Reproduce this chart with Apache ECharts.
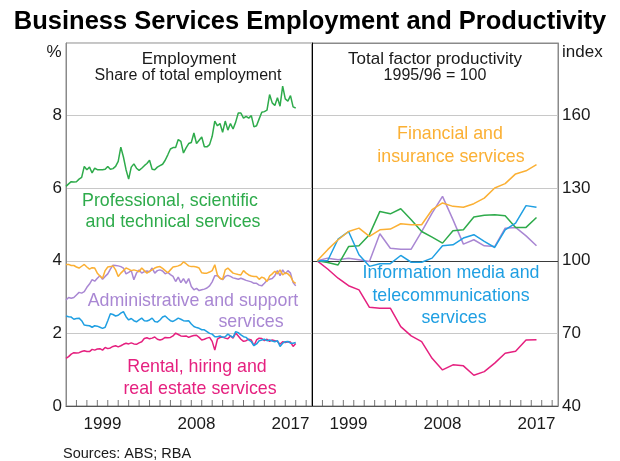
<!DOCTYPE html>
<html><head><meta charset="utf-8">
<script src="https://cdn.jsdelivr.net/npm/echarts@6/dist/echarts.min.js"></script>
<style>html,body{margin:0;padding:0;background:#fff}#c{width:620px;height:461px}</style>
</head><body><div id="c"></div>
<script>
// ---- Data ----
// Employment share (% of total), quarterly; first observation at the start of 1996 on the axis
const empStart = 1996;
const empProf = [6.05,6.12,6.18,6.17,6.18,6.25,6.30,6.60,6.51,6.58,
6.42,6.55,6.51,6.51,6.51,6.52,6.60,6.52,6.54,6.60,
6.74,7.13,6.86,6.51,6.25,6.58,6.67,6.55,6.49,6.55,
6.62,6.68,6.77,6.52,6.51,6.58,6.62,6.66,6.77,6.92,
7.08,7.12,7.12,7.34,7.29,6.97,7.11,7.23,7.26,7.52,
7.23,7.32,7.41,7.14,7.14,7.20,7.43,7.85,7.72,7.78,
7.54,7.85,7.60,7.78,7.63,7.82,8.07,8.07,7.93,7.98,
7.93,8.00,7.69,7.72,7.91,8.09,8.11,8.15,8.58,8.35,
8.28,8.49,8.26,8.81,8.46,8.40,8.55,8.24,8.21];
const empFin = [3.90,3.90,3.87,3.87,3.83,3.80,3.85,3.90,3.83,3.77,
3.81,3.80,3.66,3.58,3.52,3.73,3.83,3.84,3.86,3.75,
3.57,3.66,3.73,3.80,3.77,3.73,3.75,3.73,3.70,3.80,
3.73,3.66,3.71,3.75,3.80,3.83,3.84,3.79,3.73,3.67,
3.75,3.83,3.84,3.86,3.89,3.97,3.92,3.86,3.84,3.84,
3.83,3.80,3.67,3.66,3.66,3.69,3.73,3.89,3.61,3.52,
3.49,3.75,3.80,3.73,3.66,3.64,3.62,3.61,3.73,3.66,
3.61,3.58,3.57,3.57,3.49,3.55,3.52,3.43,3.58,3.64,
3.71,3.64,3.75,3.61,3.67,3.64,3.57,3.43,3.38];
const empAdmin = [2.92,2.99,2.97,2.99,3.06,3.13,3.11,3.15,3.27,3.36,
3.48,3.44,3.52,3.59,3.49,3.57,3.64,3.77,3.88,3.87,
3.86,3.84,3.80,3.64,3.68,3.73,3.48,3.66,3.75,3.66,
3.70,3.72,3.70,3.80,3.66,3.73,3.75,3.72,3.64,3.68,
3.62,3.57,3.43,3.55,3.40,3.51,3.38,3.51,3.29,3.20,
3.24,3.18,3.20,3.22,3.25,3.31,3.42,3.59,3.59,3.52,
3.48,3.57,3.60,3.57,3.53,3.51,3.49,3.52,3.49,3.46,
3.44,3.42,3.38,3.38,3.33,3.31,3.38,3.46,3.49,3.51,
3.59,3.73,3.59,3.75,3.64,3.73,3.66,3.40,3.31];
const empInfo = [2.48,2.46,2.45,2.39,2.41,2.42,2.35,2.23,2.22,2.21,
2.17,2.21,2.20,2.17,2.14,2.17,2.35,2.54,2.52,2.48,
2.50,2.56,2.60,2.46,2.37,2.41,2.35,2.32,2.37,2.42,
2.35,2.34,2.37,2.42,2.33,2.31,2.37,2.45,2.48,2.41,
2.35,2.33,2.37,2.42,2.39,2.35,2.34,2.35,2.26,2.19,
2.16,2.14,2.10,2.10,2.05,2.00,1.98,1.91,1.91,1.93,
1.89,1.91,1.98,1.93,1.89,2.05,2.02,1.96,1.91,1.89,
1.82,1.77,1.66,1.71,1.80,1.82,1.84,1.80,1.82,1.79,
1.77,1.80,1.64,1.73,1.77,1.78,1.73,1.73,1.75];
const empRental = [1.31,1.36,1.43,1.47,1.46,1.47,1.50,1.52,1.50,1.50,
1.56,1.54,1.57,1.58,1.54,1.61,1.58,1.60,1.64,1.66,
1.63,1.66,1.70,1.73,1.71,1.74,1.71,1.70,1.74,1.77,
1.86,1.88,1.85,1.87,1.90,1.84,1.82,1.84,1.89,1.88,
1.89,1.93,2.01,1.97,1.93,1.92,1.93,1.89,1.92,1.94,
1.95,1.89,1.82,1.84,1.87,1.89,1.78,1.54,1.84,1.89,
1.90,1.87,1.85,1.93,1.87,2.01,1.93,1.84,1.78,1.80,
1.84,1.82,1.66,1.82,1.87,1.86,1.80,1.84,1.78,1.82,
1.80,1.78,1.70,1.77,1.75,1.77,1.76,1.64,1.72];

// Total factor productivity, 1995/96 = 100, annual (financial years ending in the given year)
const tfpYears = [1996,1997,1998,1999,2000,2001,2002,2003,2004,2005,2006,2007,2008,2009,2010,2011,2012,2013,2014,2015,2016,2017];
const tfpFin = [100,104.6,108.7,112.1,113.5,110.1,112.8,113.1,115.3,114.9,114.9,121.1,123.9,122.5,122.1,123.6,125.9,130.1,131.9,135.9,137.2,139.7];
const tfpProf = [100,99.3,98.3,105.9,106.2,110.8,120.4,119.4,121.5,117,112.1,109.8,107.3,112.4,112.8,118.1,118.8,119,118.6,113.8,113.8,117.9];
const tfpInfo = [100,100,109,112.1,102.5,97.7,98.8,98.8,102.2,99.4,99.4,101.1,106.2,106.6,109.4,110.8,108,105.5,112.8,115.6,122.8,122.1];
const tfpAdmin = [100,101.1,100.4,101.1,100.4,99.7,111.2,105.2,104.8,104.8,112.1,119.7,126.6,117,106.9,108.7,106.2,105.9,113.5,113.8,110.3,106.2];
const tfpRental = [100,96.6,92.8,89.7,88,80.8,80.4,80.4,72.8,69,66.6,59.7,54.9,57,56.6,52.7,54.2,57.7,61.8,62.6,67.3,67.4];

const yearLabels = [1999, 2008, 2017];
// Year-boundary tick positions along the bottom axis
const tickYears = [1997,1998,1999,2000,2001,2002,2003,2004,2005,2006,2007,2008,2009,2010,2011,2012,2013,2014,2015,2016,2017,2018,2019];

// ---- Styling ----
const FONT = '"Liberation Sans", Arial, Helvetica, sans-serif';
const C = {prof:'#2eab4b', fin:'#fbb034', admin:'#a987d3', info:'#1f9fe2', rental:'#e5207f'};

// Axis coordinate: a year occupies [Y, Y+1); annual points sit at the middle of the year slot
function q(arr){ return arr.map((v,i)=>[empStart + 0.25*i, v]); }
function a(arr){ return arr.map((v,i)=>[tfpYears[i] + 0.5, v]); }
function line(name, data, color, xi, yi){
  return {name, type:'line', data, xAxisIndex:xi, yAxisIndex:yi, showSymbol:false, symbol:'none',
    lineStyle:{color, width:1.5}, itemStyle:{color}, animation:false, silent:true};
}
// Small upward tick marks sitting on the x axis line
function ticks(xi, yi, base){
  return {type:'scatter', xAxisIndex:xi, yAxisIndex:yi, data:tickYears.map(t=>[t, base]),
    symbol:'rect', symbolSize:[1,6], symbolOffset:[0,-3], itemStyle:{color:'#555'},
    clip:false, silent:true, animation:false, z:3};
}
function txt(x, y, text, size, color, align, weight){
  return {type:'text', x, y, silent:true, style:{text, fill:color||'#1a1a1a',
    font:(weight||'normal')+' '+size+'px '+FONT, textAlign:align||'center', textVerticalAlign:'middle',
    align:align||'center', verticalAlign:'middle'}};
}

const xMin = 1996, xMax = 2019.56;
// Year label drawn at the boundary tick and shifted half a year slot right
function xAxis(gi){
  return {type:'value', gridIndex:gi, min:xMin, max:xMax, interval:1, position:'bottom',
    axisLine:{show:true, onZero:false, lineStyle:{color:'#555', width:1}},
    axisTick:{show:false},
    axisLabel:{show:true, margin:10, fontSize:17, fontFamily:FONT, color:'#1a1a1a', hideOverlap:false,
      showMinLabel:true, showMaxLabel:true,
      formatter:v=> yearLabels.indexOf(Math.round(v))>=0 ? '{y|'+Math.round(v)+'}' : ' ',
      rich:{y:{fontSize:17, fontFamily:FONT, color:'#1a1a1a', padding:[0,0,0,10.4]}}},
    splitLine:{show:false}};
}

const chart = echarts.init(document.getElementById('c'), null, {renderer:'canvas'});
chart.setOption({
  animation:false,
  backgroundColor:'#fff',
  grid:[
    {left:66, top:43, width:246, height:363, show:true, borderColor:'#8a8a8a', borderWidth:1, containLabel:false, outerBoundsMode:'none'},
    {left:312, top:43, width:246, height:363, show:true, borderColor:'#8a8a8a', borderWidth:1, containLabel:false, outerBoundsMode:'none'}
  ],
  xAxis:[xAxis(0), xAxis(1)],
  yAxis:[
    {type:'value', gridIndex:0, min:0, max:10, interval:2, position:'left',
      axisLine:{show:true, lineStyle:{color:'#8a8a8a'}}, axisTick:{show:false},
      axisLabel:{margin:4, fontSize:17, fontFamily:FONT, color:'#1a1a1a', formatter:v=> v===10?'':String(v)},
      splitLine:{show:true, lineStyle:{color:'#c8c8c8', width:1}}},
    {type:'value', gridIndex:1, min:40, max:190, interval:30, position:'right',
      axisLine:{show:true, lineStyle:{color:'#8a8a8a'}}, axisTick:{show:false},
      axisLabel:{margin:4, fontSize:17, fontFamily:FONT, color:'#1a1a1a', formatter:v=> v===190?'':String(v)},
      splitLine:{show:true, lineStyle:{color:['#8a8a8a','#c8c8c8','#3a3a3a','#c8c8c8','#c8c8c8','#8a8a8a'], width:1}}},
    {type:'value', gridIndex:1, min:40, max:190, position:'left',
      axisLine:{show:true, lineStyle:{color:'#000', width:1}}, axisTick:{show:false}, axisLabel:{show:false}, splitLine:{show:false}}
  ],
  series:[
    ticks(0, 0, 0),
    ticks(1, 1, 40),
    line('Rental, hiring and real estate services', q(empRental), C.rental, 0, 0),
    line('Information media and telecommunications services', q(empInfo), C.info, 0, 0),
    line('Administrative and support services', q(empAdmin), C.admin, 0, 0),
    line('Financial and insurance services', q(empFin), C.fin, 0, 0),
    line('Professional, scientific and technical services', q(empProf), C.prof, 0, 0),
    line('Rental, hiring and real estate services', a(tfpRental), C.rental, 1, 1),
    line('Administrative and support services', a(tfpAdmin), C.admin, 1, 1),
    line('Professional, scientific and technical services', a(tfpProf), C.prof, 1, 1),
    line('Information media and telecommunications services', a(tfpInfo), C.info, 1, 1),
    line('Financial and insurance services', a(tfpFin), C.fin, 1, 1)
  ],
  graphic:[
    txt(310, 22, 'Business Services Employment and Productivity', 25.5, '#000', 'center', 'bold'),
    txt(54, 52, '%', 17, '#1a1a1a', 'center'),
    txt(562, 52, 'index', 17, '#1a1a1a', 'left'),
    txt(189, 59, 'Employment', 17, '#1a1a1a'),
    txt(188, 76, 'Share of total employment', 16, '#1a1a1a'),
    txt(435, 59, 'Total factor productivity', 17, '#1a1a1a'),
    txt(435, 76, '1995/96 = 100', 16, '#1a1a1a'),
    txt(170, 201, 'Professional, scientific', 17.8, C.prof),
    txt(173, 222, 'and technical services', 17.8, C.prof),
    txt(193, 301, 'Administrative and support', 17.8, C.admin),
    txt(251, 322, 'services', 17.8, C.admin),
    txt(197, 367, 'Rental, hiring and', 17.8, C.rental),
    txt(200, 389, 'real estate services', 17.8, C.rental),
    txt(450, 134, 'Financial and', 17.8, C.fin),
    txt(451, 157, 'insurance services', 17.8, C.fin),
    txt(451, 273, 'Information media and', 17.8, C.info),
    txt(451, 296, 'telecommunications', 17.8, C.info),
    txt(454, 318, 'services', 17.8, C.info),
    txt(63, 454, 'Sources: ABS; RBA', 14.5, '#1a1a1a', 'left')
  ]
});
</script>
</body></html>
